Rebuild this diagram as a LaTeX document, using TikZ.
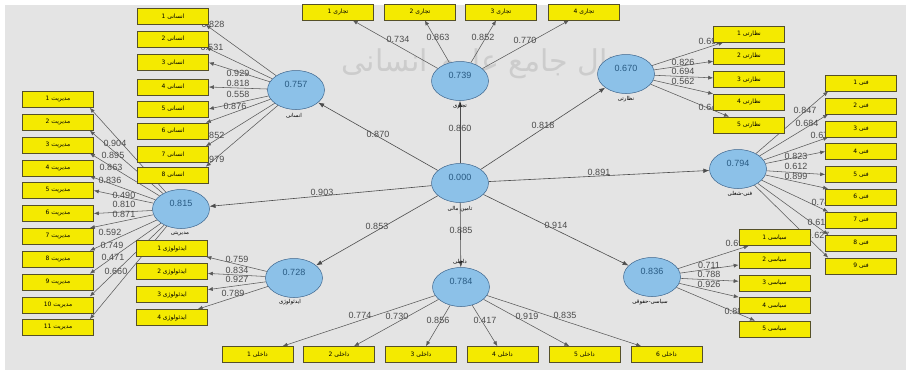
\documentclass[tikz,border=0pt]{standalone}
\usepackage{fontspec}
\setmainfont{Liberation Sans}
\newfontfamily\fa[Script=Arabic]{DejaVu Sans}
\TeXXeTstate=1
\usetikzlibrary{arrows.meta,shapes.geometric}
\newcommand\fatext[1]{{\fa\beginR #1\endR}}
\definecolor{bgc}{RGB}{228,228,228}
\definecolor{latblue}{RGB}{140,193,232}
\definecolor{latdraw}{RGB}{60,100,140}
\definecolor{valblue}{RGB}{40,90,130}
\definecolor{boxy}{RGB}{244,234,0}
\definecolor{boxd}{RGB}{85,80,40}
\definecolor{lnc}{RGB}{90,90,90}
\definecolor{labc}{RGB}{75,75,75}
\pgfdeclarelayer{back0}
\pgfdeclarelayer{back1}
\pgfsetlayers{back0,back1,main}
\begin{document}
\begin{tikzpicture}[x=1pt,y=-1pt,
 lat/.style={ellipse,draw=latdraw,fill=latblue,minimum width=57pt,minimum height=39pt,inner sep=0pt,line width=0.5pt},
 val/.style={font=\fontsize{9}{10}\selectfont,text=valblue,yshift=6pt,inner sep=0pt},
 ind/.style={rectangle,draw=boxd,fill=boxy,minimum width=71pt,minimum height=16pt,inner sep=0pt,line width=0.6pt,font=\fontsize{6}{7}\selectfont},
 arr/.style={draw=lnc,line width=0.55pt,-{Latex[length=5pt,width=4pt]}},
 sarr/.style={draw=black!70,line width=0.6pt,-{Latex[length=6pt,width=4.5pt]}},
 lbl/.style={font=\fontsize{9}{10}\selectfont,text=labc,inner sep=0pt},
 lvcap/.style={font=\fontsize{5.5}{6}\selectfont,inner sep=0pt}]
\useasboundingbox (0,0) rectangle (906,370);
\begin{pgfonlayer}{back0}
\fill[white] (0,0) rectangle (906,370);
\fill[bgc] (5,5) rectangle (906,370);
\node[font=\fontsize{30}{32}\selectfont,text=black!20,inner sep=0pt] (wm) at (492,64) {\fatext{پرتال جامع علوم انسانی}};
\end{pgfonlayer}

% latent variables
\node[lat,label={[val]center:0.000}] (F) at (460,183) {};
\node[lat,label={[val]center:0.757}] (H) at (296,90) {};
\node[lat,label={[val]center:0.739}] (T) at (460,81) {};
\node[lat,label={[val]center:0.670}] (N) at (626,74) {};
\node[lat,label={[val]center:0.794}] (Fn) at (738,169) {};
\node[lat,label={[val]center:0.836}] (S) at (652,277) {};
\node[lat,label={[val]center:0.784}] (D) at (461,287) {};
\node[lat,label={[val]center:0.728}] (I) at (294,278) {};
\node[lat,label={[val]center:0.815}] (M) at (181,209) {};

\node[lvcap] (Fc) at (460,209) {\fatext{تامین مالی}};
\node[lvcap] (Hc) at (294,116) {\fatext{انسانی}};
\node[lvcap] (Tc) at (460,106) {\fatext{تجاری}};
\node[lvcap] (Nc) at (626,99) {\fatext{نظارتی}};
\node[lvcap] (Fnc) at (740,194) {\fatext{فنی-شغلی}};
\node[lvcap] (Sc) at (650,302) {\fatext{سیاسی-حقوقی}};
\node[lvcap] (Dc) at (460,262) {\fatext{داخلی}};
\node[lvcap] (Ic) at (290,302) {\fatext{ایدئولوژی}};
\node[lvcap] (Mc) at (180,234) {\fatext{مدیریتی}};

% indicators
\foreach \i/\y in {1/99.5,2/122.3,3/145,4/167.8,5/190.5,6/213.5,7/236.3,8/259,9/282,10/304.8,11/327.5}
  \node[ind] (m\i) at (58,\y) {\fatext{مدیریت \i}};
\foreach \i/\y in {1/16.5,2/39,3/62.5,4/87,5/109,6/131,7/154.5,8/175}
  \node[ind] (h\i) at (173,\y) {\fatext{انسانی \i}};
\foreach \i/\x in {1/338,2/420,3/501,4/584}
  \node[ind] (t\i) at (\x,12) {\fatext{تجاری \i}};
\foreach \i/\y in {1/34,2/56,3/79.5,4/102,5/125}
  \node[ind] (n\i) at (749,\y) {\fatext{نظارتی \i}};
\foreach \i/\y in {1/83,2/106,3/129,4/151.5,5/174.5,6/197,7/220,8/243,9/266}
  \node[ind] (f\i) at (861,\y) {\fatext{فنی \i}};
\foreach \i/\y in {1/237.5,2/260,3/283,4/305.5,5/329}
  \node[ind] (s\i) at (774.5,\y) {\fatext{سیاسی \i}};
\foreach \i/\y in {1/248.5,2/271.5,3/294.5,4/317.5}
  \node[ind] (i\i) at (172,\y) {\fatext{ایدئولوژی \i}};
\foreach \i/\x in {1/257.5,2/339,3/421,4/502.5,5/584.5,6/666.5}
  \node[ind] (d\i) at (\x,354.5) {\fatext{داخلی \i}};

\begin{pgfonlayer}{back1}
% structural paths
\draw[sarr] (F) -- (H);
\draw[sarr] (F) -- (T);
\draw[sarr] (F) -- (N);
\draw[sarr] (F) -- (Fn);
\draw[sarr] (F) -- (S);
\draw[sarr] (F) -- (D);
\draw[sarr] (F) -- (I);
\draw[sarr] (F) -- (M);
% loadings
\foreach \i in {1,2,3,4} \draw[arr] (M) -- ([xshift=-4pt]m\i.south east);
\foreach \i in {5,6} \draw[arr] (M) -- (m\i.east);
\foreach \i in {7,8,9,10,11} \draw[arr] (M) -- ([xshift=-4pt]m\i.north east);
\foreach \i in {1,2} \draw[arr] (H) -- ([xshift=-3pt]h\i.south east);
\foreach \i in {3,4,5} \draw[arr] (H) -- (h\i.east);
\foreach \i in {6,7,8} \draw[arr] (H) -- ([xshift=-3pt]h\i.north east);
\foreach \i in {1,2,3,4} \draw[arr] (T) -- (t\i);
\foreach \i in {1,2,3,4,5} \draw[arr] (N) -- (n\i);
\foreach \i in {1,2,3} \draw[arr] (Fn) -- ([xshift=3pt]f\i.south west);
\foreach \i in {4,5} \draw[arr] (Fn) -- (f\i.west);
\foreach \i in {6,7,8,9} \draw[arr] (Fn) -- ([xshift=3pt]f\i.north west);
\foreach \i in {1,2,3,4,5} \draw[arr] (S) -- (s\i);
\foreach \i in {1,2,3,4} \draw[arr] (I) -- (i\i);
\foreach \i in {1,2,3,4,5,6} \draw[arr] (D) -- (d\i);
% path labels
\foreach \n/\x/\y/\v in {a/378/134/0.870,b/460/128/0.860,c/543/125/0.818,e/599/172/0.891,
  g/556/225/0.914,k/461/230/0.885,p/377/226/0.853,q/322/192/0.903}
  \node[lbl] (s\n) at (\x,\y) {\v};
\foreach \n/\x/\y/\v in {1/115/143/0.904,2/113/155/0.895,3/111/167/0.863,4/110/180/0.836,
  5/124/195/0.490,6/124/204/0.810,7/124/214/0.871,8/110/232/0.592,9/112/245/0.749,
  10/113/257/0.471,11/116/271/0.660}
  \node[lbl] (lm\n) at (\x,\y) {\v};
\foreach \n/\x/\y/\v in {1/213/24/0.828,2/212/47/0.531,3/238/73/0.929,4/238/83/0.818,
  5/238/94/0.558,6/235/106/0.876,7/213/135/0.852,8/213/159/0.979}
  \node[lbl] (lh\n) at (\x,\y) {\v};
\foreach \n/\x/\y/\v in {1/398/39/0.734,2/438/37/0.863,3/483/37/0.852,4/525/40/0.770}
  \node[lbl] (lt\n) at (\x,\y) {\v};
\foreach \n/\x/\y/\v in {1/710/41/0.692,2/683/62/0.826,3/683/71/0.694,4/683/81/0.562,5/710/107/0.642}
  \node[lbl] (ln\n) at (\x,\y) {\v};
\foreach \n/\x/\y/\v in {1/805/110/0.847,2/807/123/0.684,3/822/135/0.677,4/796/156/0.823,
  5/796/166/0.612,6/796/176/0.899,7/823/202/0.745,8/819/222/0.613,9/818/235/0.627}
  \node[lbl] (lf\n) at (\x,\y) {\v};
\foreach \n/\x/\y/\v in {1/737/243/0.691,2/709/265/0.711,3/709/274/0.788,4/709/284/0.926,5/736/311/0.880}
  \node[lbl] (ls\n) at (\x,\y) {\v};
\foreach \n/\x/\y/\v in {1/237/259/0.759,2/237/270/0.834,3/237/279/0.927,4/233/293/0.789}
  \node[lbl] (li\n) at (\x,\y) {\v};
\foreach \n/\x/\y/\v in {1/360/315/0.774,2/397/316/0.730,3/438/320/0.856,4/485/320/0.417,
  5/527/316/0.919,6/565/315/0.835}
  \node[lbl] (ld\n) at (\x,\y) {\v};
\end{pgfonlayer}
\end{tikzpicture}
\end{document}
